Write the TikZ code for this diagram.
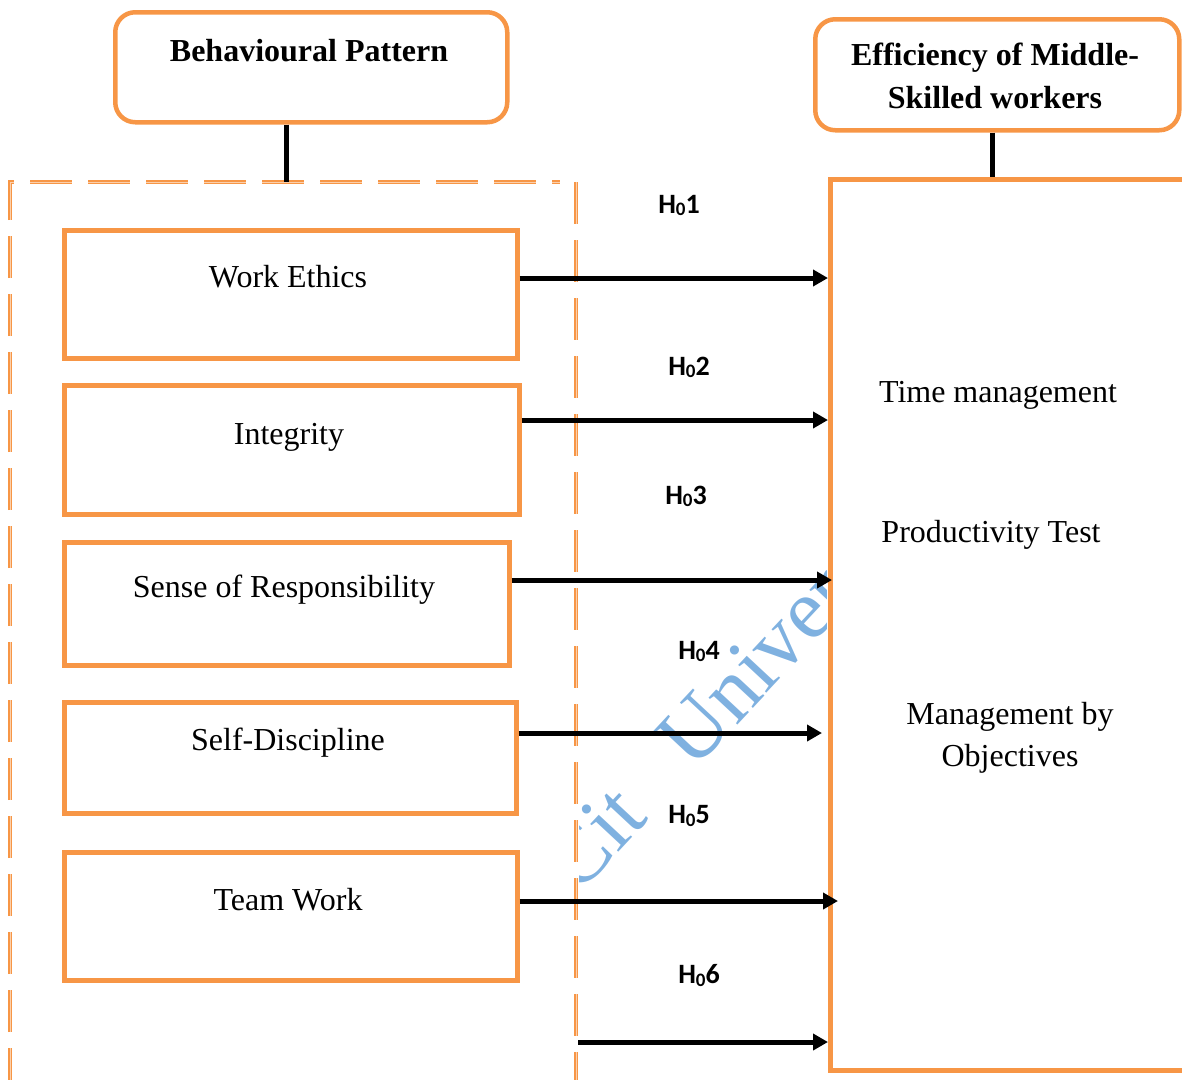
\documentclass[tikz,border=0pt]{standalone}
\usepackage{fontspec}
\setmainfont{Liberation Serif}
\newfontfamily\hfont{Carlito}
\usetikzlibrary{arrows.meta}
\definecolor{org}{HTML}{F79646}
\definecolor{wmblue}{HTML}{7FB1E0}
\newcommand{\hyplabel}[1]{H\raisebox{-0.22ex}{\fontsize{19}{19}\selectfont 0}#1}
\begin{document}
\begin{tikzpicture}[x=1pt,y=-1pt,
  obox/.style={draw=org,line width=4.5pt,rectangle,inner sep=0pt,anchor=north west},
  hbox/.style={obox,rounded corners=20pt},
  lbl/.style={font=\fontsize{32}{38}\selectfont,anchor=base,inner sep=0pt},
  hdr/.style={font=\bfseries\fontsize{32}{38}\selectfont,anchor=base,inner sep=0pt},
  hyp/.style={font=\hfont\bfseries\fontsize{28}{32}\selectfont,anchor=base,inner sep=2pt},
  arr/.style={-{Triangle[length=15pt,width=16pt]},line width=5pt},
  conn/.style={line width=5pt},
  dashline/.style={draw=org,line width=3.5pt,dash pattern=on 42pt off 16pt},
  dashinner/.style={draw=org!45!white,line width=1pt,dash pattern=on 42pt off 16pt},
  wmk/.style={text=wmblue,font=\fontsize{86}{86}\selectfont,rotate=47,anchor=base west,inner sep=0pt}]
\useasboundingbox (0,0) rectangle (1182,1079);
\clip (0,0) rectangle (1182,1079);

% watermark (visible only in the strip between the two panels)
\begin{scope}
  \clip (579,0) rectangle (826,1079);
  \node[wmk] (wm) at (578,896) {Cit\phantom{y} Univer};
\end{scope}

% dashed container
\coordinate (dtl) at (10,182);
\coordinate (dtr) at (576,182);
\coordinate (dbl) at (10,1090);
\coordinate (dbr) at (576,1090);
\draw[dashline] (dbl) -- (dtl) -- (560,182);
\draw[dashinner] (dbl) -- (dtl) -- (560,182);
\draw[dashline] (dtr) -- (dbr);
\draw[dashinner] (dtr) -- (dbr);
\coordinate (dtop) at (286,182);

% header boxes
\node[hbox,minimum width=392pt,minimum height=110pt] (bp) at (113,10) {};
\node[hdr] (bpt) at (309,61) {Behavioural Pattern};
\node[hbox,minimum width=364pt,minimum height=111pt] (ef) at (813,17) {};
\node[hdr] (ef1) at (995,65) {Efficiency of Middle-};
\node[hdr] (ef2) at (995,108) {Skilled workers};

% right panel
\node[obox,minimum width=400pt,minimum height=891pt] (rb) at (828,177) {};
\node[lbl] (tm) at (998,402) {Time management};
\node[lbl] (pt) at (991,542) {Productivity Test};
\node[lbl] (mb1) at (1010,724) {Management by};
\node[lbl] (mb2) at (1010,766) {Objectives};

% connectors from headers
\draw[conn] (bp.south -| 286,0) -- (dtop);
\draw[conn] (ef.south -| 992,0) -- (rb.north -| 992,0);

% left boxes
\node[obox,minimum width=453pt,minimum height=128pt] (we) at (62,228) {};
\node[lbl] (wet) at (288,287) {Work Ethics};
\node[obox,minimum width=455pt,minimum height=129pt] (ig) at (62,383) {};
\node[lbl] (igt) at (289,444) {Integrity};
\node[obox,minimum width=445pt,minimum height=123pt] (sr) at (62,540) {};
\node[lbl] (srt) at (284,597) {Sense of Responsibility};
\node[obox,minimum width=452pt,minimum height=111pt] (sd) at (62,700) {};
\node[lbl] (sdt) at (288,750) {Self-Discipline};
\node[obox,minimum width=453pt,minimum height=128pt] (tw) at (62,850) {};
\node[lbl] (twt) at (288,910) {Team Work};

% hypothesis labels
\node[hyp] (h1) at (679,213) {\hyplabel{1}};
\node[hyp] (h2) at (689,375) {\hyplabel{2}};
\node[hyp] (h3) at (686,504) {\hyplabel{3}};
\node[hyp] (h4) at (699,659) {\hyplabel{4}};
\node[hyp] (h5) at (689,823) {\hyplabel{5}};
\node[hyp] (h6) at (699,983) {\hyplabel{6}};

% arrows
\coordinate (s6) at (578,1042);
\draw[arr] (we.east |- 0,278) -- (rb.west |- 0,278);
\draw[arr] (ig.east |- 0,420) -- (rb.west |- 0,420);
\draw[arr] (sr.east |- 0,580) -- ([xshift=4pt]rb.west |- 0,580);
\draw[arr] (sd.east |- 0,733) -- ([xshift=-6pt]rb.west |- 0,733);
\draw[arr] (tw.east |- 0,901) -- ([xshift=10pt]rb.west |- 0,901);
\draw[arr] (s6) -- (rb.west |- s6);
\end{tikzpicture}
\end{document}
